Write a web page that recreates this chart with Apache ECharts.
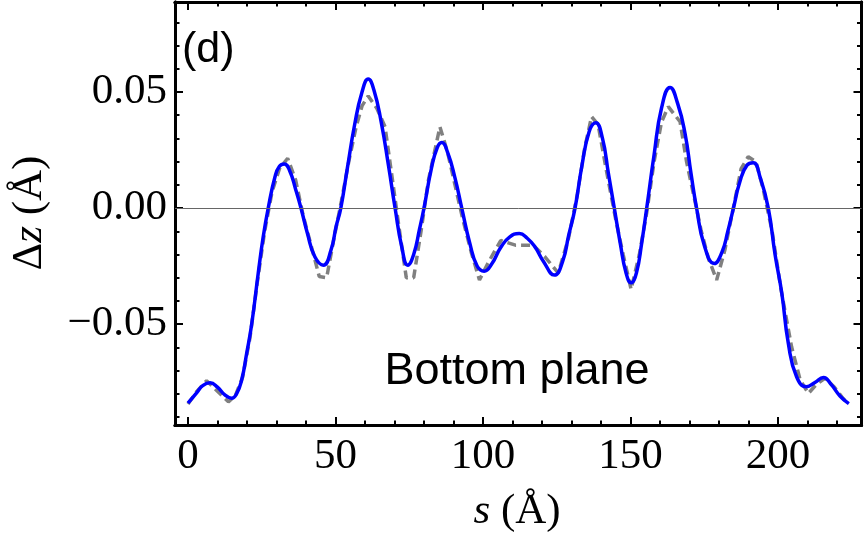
<!DOCTYPE html>
<html>
<head>
<meta charset="utf-8">
<script src="https://cdn.jsdelivr.net/npm/echarts@6/dist/echarts.min.js"></script>
<style>html,body{margin:0;padding:0;background:#fff}#c{width:864px;height:538px}</style>
</head>
<body>
<div id="c"></div>
<script>
// ---- data ----
const blueS = [0,3,5,7.5,10,12.5,14.8,16.5,18.2,19.9,21.6,23.8,25.5,27.2,29.5,31,32.6,34.5,36.5,38.3,40.5,43,45.9,48.5,50.2,51.8,54,56.5,59,61.1,63,65.5,68,70.2,72.5,74.5,76.5,78.5,80,82.5,84.5,86,88,90.5,92.8,95.5,98,100.4,103,106,109,112.3,115,117.6,120.5,124.2,127,129,131.2,133.5,136,138.2,140.5,142.5,144.5,146.5,148.5,150.2,152,153.8,155.5,158,160.5,163.4,166,168.5,170.5,172.4,175,178.4,181,183,184.9,187,189.5,191.6,194,196.7,199,201.3,203.5,206.3,209.7,212.5,215.4,218,221,224];
const blueZ = [-0.0841,-0.0795,-0.0765,-0.0753,-0.0772,-0.0805,-0.0820,-0.0800,-0.0741,-0.0626,-0.0500,-0.0282,-0.0124,0.0,0.0135,0.0180,0.0190,0.0160,0.0080,0.0,-0.0110,-0.0210,-0.0246,-0.0180,-0.0080,0.0,0.0170,0.0360,0.0500,0.0556,0.0510,0.0370,0.0180,0.0,-0.0170,-0.0246,-0.0200,-0.0090,0.0,0.0170,0.0260,0.0282,0.0240,0.0130,0.0,-0.0150,-0.0250,-0.0272,-0.0240,-0.0170,-0.0125,-0.0110,-0.0130,-0.0167,-0.0230,-0.0289,-0.0230,-0.0120,0.0,0.0180,0.0330,0.0368,0.0300,0.0150,0.0,-0.0150,-0.0280,-0.0322,-0.0280,-0.0150,0.0,0.0230,0.0430,0.0520,0.0450,0.0320,0.0150,0.0,-0.0160,-0.0239,-0.0190,-0.0100,0.0,0.0110,0.0185,0.0195,0.0130,0.0,-0.0200,-0.0368,-0.0583,-0.0727,-0.0770,-0.0752,-0.0730,-0.0760,-0.0810,-0.0843];
const grayS = [0,3,6.3,10,13.7,16,18.5,21,23.5,26,28.5,31,33.8,36.5,39,41.5,44.5,47,49.5,52,54.5,57,59,61.1,64,66.8,69,71.5,74,76.5,79,81.5,85.4,88,90.5,93,96,98.8,102,106,111,117,121,125.5,129,132,134.5,136.8,139,142,145,147.5,150.2,153,155.5,158,160.5,162.8,166.8,169,171.5,174,176.5,179.2,182,185,187.5,189.9,192.5,195,198,201,204.6,207.5,210.3,213,215.9,219,222,224];
const grayZ = [-0.0845,-0.0790,-0.0744,-0.0790,-0.0835,-0.0810,-0.0730,-0.0560,-0.0320,-0.0100,0.0070,0.0170,0.0214,0.0120,-0.0030,-0.0150,-0.0295,-0.0300,-0.0130,0.0030,0.0200,0.0350,0.0440,0.0483,0.0430,0.0350,0.0150,-0.0080,-0.0300,-0.0300,-0.0100,0.0120,0.0350,0.0240,0.0100,-0.0040,-0.0190,-0.0310,-0.0230,-0.0140,-0.0160,-0.0160,-0.0210,-0.0280,-0.0130,0.0060,0.0260,0.0394,0.0360,0.0150,-0.0050,-0.0200,-0.0350,-0.0200,-0.0020,0.0200,0.0370,0.0437,0.0372,0.0200,0.0050,-0.0100,-0.0220,-0.0310,-0.0180,0.0010,0.0170,0.0221,0.0200,0.0080,-0.0100,-0.0350,-0.0598,-0.0740,-0.0799,-0.0760,-0.0734,-0.0770,-0.0820,-0.0845];
const xMajor = [0,50,100,150,200];
const xMinor = [10,20,30,40,60,70,80,90,110,120,130,140,160,170,180,190,210,220];
const yMajor = [-0.05,0,0.05];
const yMinor = [-0.09,-0.08,-0.07,-0.06,-0.04,-0.03,-0.02,-0.01,0.01,0.02,0.03,0.04,0.06,0.07,0.08];
const xRange = [-4.4, 228.3];
const yRange = [-0.0935, 0.0888];

const zip = (a,b) => a.map((v,i)=>[v,b[i]]);
const chart = echarts.init(document.getElementById('c'), null, {renderer:'canvas'});
const frame = {show:true, onZero:false, lineStyle:{color:'#000', width:3}};
function mkX(pos, ticks, len, labels){
  return {type:'value', position:pos, min:xRange[0], max:xRange[1],
    axisLine: frame, splitLine:{show:false},
    axisTick:{show:true, inside:true, length:len, customValues:ticks, lineStyle:{color:'#000', width:2}},
    axisLabel: labels ? {show:true, customValues:ticks, margin:10, color:'#000', fontFamily:'Liberation Serif', fontSize:43,
      formatter:v=>String(Math.round(v))} : {show:false}};
}
function mkY(pos, ticks, len, labels){
  return {type:'value', position:pos, min:yRange[0], max:yRange[1],
    axisLine: frame, splitLine:{show:false},
    axisTick:{show:true, inside:true, length:len, customValues:ticks, lineStyle:{color:'#000', width:2}},
    axisLabel: labels ? {show:true, customValues:ticks, margin:8, color:'#000', fontFamily:'Liberation Serif', fontSize:43,
      formatter:v=>(v< -1e-9?'\u2212':'')+Math.abs(v).toFixed(2)} : {show:false}};
}
chart.setOption({
  animation:false,
  backgroundColor:'#fff',
  grid:{left:175, right:2.5, top:2, bottom:113, containLabel:false},
  xAxis:[mkX('bottom', xMajor, 8, true), mkX('bottom', xMinor, 4.5, false), mkX('top', xMajor, 8, false), mkX('top', xMinor, 4.5, false)],
  yAxis:[mkY('left', yMajor, 8, true), mkY('left', yMinor, 4.5, false), mkY('right', yMajor, 8, false), mkY('right', yMinor, 4.5, false)],
  series:[
    {type:'line', data:zip(grayS, grayZ), showSymbol:false, smooth:false, z:2,
      lineStyle:{color:'#808080', width:3.5, type:[9,5]},
      markLine:{silent:true, symbol:'none', label:{show:false}, lineStyle:{color:'#666', width:1, type:'solid'}, data:[{yAxis:0}]}},
    {type:'line', data:zip(blueS, blueZ), showSymbol:false, smooth:0.5, z:3,
      lineStyle:{color:'#0000ff', width:3.5}}
  ],
  graphic:[
    {type:'text', x:182, y:50, style:{text:'(d)', fontFamily:'Liberation Sans', fontSize:43, fill:'#000', align:'left', verticalAlign:'middle'}},
    {type:'text', x:517, y:372, style:{text:'Bottom plane', fontFamily:'Liberation Sans', fontSize:45, fill:'#000', align:'center', verticalAlign:'middle'}},
    {type:'text', x:517, y:512, style:{text:'{i|s} (Å)', fontFamily:'Liberation Serif', fontSize:43, fill:'#000', align:'center', verticalAlign:'middle',
      rich:{i:{fontFamily:'Liberation Serif', fontStyle:'italic', fontSize:43, fill:'#000'}}}},
    {type:'text', x:30, y:213, rotation:Math.PI/2, style:{text:'Δ{i|z} (Å)', fontFamily:'Liberation Serif', fontSize:43, fill:'#000', align:'center', verticalAlign:'middle',
      rich:{i:{fontFamily:'Liberation Serif', fontStyle:'italic', fontSize:43, fill:'#000'}}}}
  ]
});
</script>
</body>
</html>
